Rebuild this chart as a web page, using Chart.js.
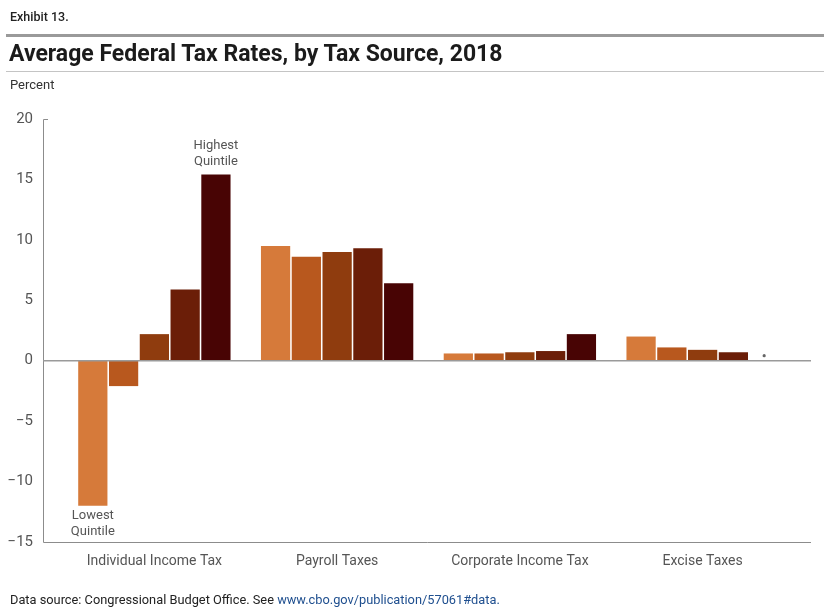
<!DOCTYPE html>
<html lang="en">
<head>
    <meta charset="UTF-8">
    <title>Average Federal Tax Rates, by Tax Source, 2018</title>
    <script src="https://cdn.jsdelivr.net/npm/chart.js"></script>
    <style>
        html, body {
            margin: 0;
            padding: 0;
            background: #fff;
            font-family: 'Roboto', sans-serif;
        }
        .page {
            position: relative;
            width: 824px;
            height: 608px;
            overflow: hidden;
        }
        #taxChart {
            position: absolute;
            left: 0;
            top: 0;
        }
        .exhibit {
            position: absolute;
            left: 10px;
            top: 9px;
            font-size: 12.5px;
            font-weight: 500;
            color: #222;
        }
        .rule-thick {
            position: absolute;
            left: 6px;
            right: 0;
            top: 34px;
            height: 3px;
            background: #9a9a9a;
        }
        h2 {
            position: absolute;
            left: 9px;
            top: 40px;
            margin: 0;
            font-size: 23px;
            font-weight: 700;
            color: #1b1b1b;
        }
        .rule-thin {
            position: absolute;
            left: 6px;
            right: 0;
            top: 71px;
            height: 1px;
            background: #c4c4c4;
        }
        .unit {
            position: absolute;
            left: 10px;
            top: 77px;
            font-size: 13px;
            color: #333;
        }
        .source {
            position: absolute;
            left: 10px;
            top: 592px;
            font-size: 12.8px;
            color: #222;
        }
        .source span { color: #1f4f8f; }
    </style>
</head>
<body>
    <div class="page">
        <canvas id="taxChart" width="824" height="608"></canvas>
        <div class="exhibit">Exhibit 13.</div>
        <div class="rule-thick"></div>
        <h2>Average Federal Tax Rates, by Tax Source, 2018</h2>
        <div class="rule-thin"></div>
        <div class="unit">Percent</div>
        <div class="source">Data source: Congressional Budget Office. See <span>www.cbo.gov/publication/57061#data.</span></div>
    </div>

    <script>
        // Average federal tax rates by income quintile, percent
        const sources = ['Individual Income Tax', 'Payroll Taxes', 'Corporate Income Tax', 'Excise Taxes'];
        const lowest = [-12.0, 9.5, 0.6, 2.0];
        const second = [-2.1, 8.6, 0.6, 1.1];
        const middle = [2.2, 9.0, 0.7, 0.9];
        const fourth = [5.9, 9.3, 0.8, 0.7];
        const highest = [15.4, 6.4, 2.2, 0.0];
        const yTicks = [-15, -10, -5, 0, 5, 10, 15, 20];

        const quintiles = [
            { label: 'Lowest Quintile', data: lowest, color: '#d67a3a' },
            { label: 'Second Quintile', data: second, color: '#b8581e' },
            { label: 'Middle Quintile', data: middle, color: '#8f3c0e' },
            { label: 'Fourth Quintile', data: fourth, color: '#6b1e08' },
            { label: 'Highest Quintile', data: highest, color: '#480404' }
        ];

        const AXIS_SHIFT = 20; // y axis line sits left of the first group

        // axis lines, zero line and quintile callouts
        const decorations = {
            id: 'decorations',
            afterDatasetsDraw(chart) {
                const ctx = chart.ctx;
                const area = chart.chartArea;
                const y = chart.scales.y;
                const axisX = area.left - AXIS_SHIFT;
                const lineEnd = area.right + 17;
                const top = y.getPixelForValue(20);
                const bottom = y.getPixelForValue(-15);
                const zero = y.getPixelForValue(0);

                ctx.save();
                ctx.strokeStyle = '#8c8c8c';
                ctx.lineWidth = 1;
                ctx.beginPath();
                ctx.moveTo(axisX + 5, top + 0.5);
                ctx.lineTo(axisX + 0.5, top + 0.5);
                ctx.lineTo(axisX + 0.5, bottom + 0.5);
                ctx.lineTo(lineEnd, bottom + 0.5);
                ctx.stroke();

                ctx.strokeStyle = '#9a9a9a';
                ctx.lineWidth = 1.5;
                ctx.beginPath();
                ctx.moveTo(axisX, zero);
                ctx.lineTo(lineEnd, zero);
                ctx.stroke();

                ctx.fillStyle = '#555';
                ctx.font = '13px Roboto';
                ctx.textAlign = 'center';
                ctx.textBaseline = 'middle';

                const hi = chart.getDatasetMeta(4).data[0];
                ctx.fillText('Highest', hi.x, hi.y - 29);
                ctx.fillText('Quintile', hi.x, hi.y - 13);

                const lo = chart.getDatasetMeta(0).data[0];
                ctx.fillText('Lowest', lo.x, lo.y + 10);
                ctx.fillText('Quintile', lo.x, lo.y + 26);

                // excise value for the top quintile rounds to zero
                const ex = chart.getDatasetMeta(4).data[3];
                ctx.fillStyle = '#666';
                ctx.beginPath();
                ctx.arc(ex.x, zero - 5, 1.6, 0, Math.PI * 2);
                ctx.fill();
                ctx.restore();
            }
        };

        const ctx = document.getElementById('taxChart').getContext('2d');
        new Chart(ctx, {
            type: 'bar',
            data: {
                labels: sources,
                datasets: quintiles.map(q => ({
                    label: q.label,
                    data: q.data,
                    backgroundColor: q.color,
                    borderWidth: 0,
                    barPercentage: 0.95,
                    categoryPercentage: 0.842
                }))
            },
            options: {
                responsive: false,
                animation: false,
                layout: {
                    padding: { top: 119, right: 30, bottom: 36, left: 0 }
                },
                plugins: {
                    legend: { display: false },
                    tooltip: { enabled: false }
                },
                scales: {
                    x: {
                        grid: { display: false, drawTicks: false },
                        border: { display: false },
                        ticks: {
                            color: '#555',
                            font: { family: 'Roboto', size: 14 },
                            padding: 11,
                            maxRotation: 0
                        },
                        afterFit(scale) { scale.height = 30; }
                    },
                    y: {
                        min: -15,
                        max: 20,
                        grid: { display: false, drawTicks: false },
                        border: { display: false },
                        afterBuildTicks(scale) {
                            scale.ticks = yTicks.map(v => ({ value: v }));
                        },
                        ticks: {
                            color: '#555',
                            font: { family: 'Roboto', size: 15 },
                            padding: 30,
                            callback: v => v < 0 ? '\u2212' + Math.abs(v) : String(v)
                        },
                        afterFit(scale) { scale.width = 63; }
                    }
                }
            },
            plugins: [decorations]
        });
    </script>
</body>
</html>
